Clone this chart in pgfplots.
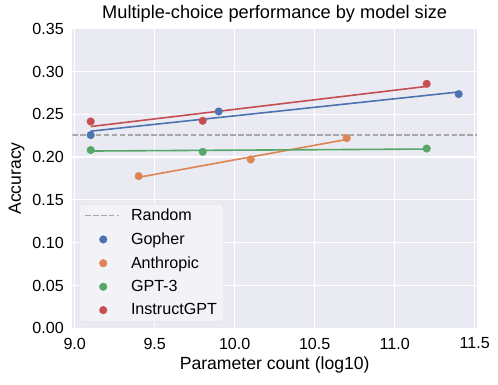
\documentclass[border=0pt]{standalone}
\usepackage{fontspec}
\setmainfont{Liberation Sans}
\usepackage{pgfplots}
\pgfplotsset{compat=1.18}
\definecolor{bgcol}{HTML}{EAEAF2}
\definecolor{gblue}{HTML}{4C72B0}
\definecolor{gorange}{HTML}{DD8452}
\definecolor{ggreen}{HTML}{55A868}
\definecolor{gred}{HTML}{C44E52}
\definecolor{rgray}{HTML}{A8A8A8}
\pgfplotsset{
  dotlegend/.style={legend image code/.code={\draw[##1] plot coordinates {(18pt,0pt)}; \path (0pt,0pt) (43pt,0pt);}},
  dashlegend/.style={legend image code/.code={\draw[##1] (0pt,0pt) -- (34pt,0pt); \path (0pt,0pt) (43pt,0pt);}},
}
\begin{document}
\begin{tikzpicture}
\begin{axis}[
  scale only axis,
  width=404.8pt, height=299.6pt,
  xmin=8.985, xmax=11.515,
  ymin=0, ymax=0.35,
  xtick={9.0,9.5,10.0,10.5,11.0,11.5},
  ytick={0,0.05,0.10,0.15,0.20,0.25,0.30,0.35},
  tick label style={font=\fontsize{16.1}{19}\selectfont},
  xticklabel style={yshift=-6pt, /pgf/number format/.cd, fixed, fixed zerofill, precision=1},
  yticklabel style={xshift=-5pt, /pgf/number format/.cd, fixed, fixed zerofill, precision=2},
  /pgf/number format/assume math mode=true,
  scaled y ticks=false,
  label style={font=\fontsize{17.6}{21}\selectfont},
  xlabel style={yshift=-1pt},
  ylabel style={yshift=1pt},
  title style={font=\fontsize{18.2}{21}\selectfont, yshift=-3pt},
  title={Multiple-choice performance by model size},
  xlabel={Parameter count (log10)},
  ylabel={Accuracy},
  axis background/.style={fill=bgcol},
  axis line style={draw=none},
  major tick length=0pt,
  grid=major,
  grid style={white, line width=1.2pt},
  legend cell align=left,
  legend style={at={(axis cs:8.985,0)}, anchor=south west, xshift=7pt, yshift=6.6pt,
    fill=bgcol!60!white, draw=black!12, rounded corners=3pt,
    font=\fontsize{16.1}{19}\selectfont, row sep=6.6pt, inner xsep=5pt, inner ysep=3pt},
]
\addplot[rgray, line width=1.5pt, dash pattern=on 5.5pt off 2.4pt, dashlegend] coordinates {(8.985,0.226) (11.515,0.226)};
\addlegendentry{Random}
\addplot[only marks, mark=*, mark size=3.8pt, gblue, dotlegend] coordinates {(9.1,0.2257) (9.9,0.2533) (11.4,0.2736)};
\addlegendentry{Gopher}
\addplot[only marks, mark=*, mark size=3.8pt, gorange, dotlegend] coordinates {(9.4,0.1778) (10.1,0.1972) (10.7,0.2222)};
\addlegendentry{Anthropic}
\addplot[only marks, mark=*, mark size=3.8pt, ggreen, dotlegend] coordinates {(9.1,0.2082) (9.8,0.2062) (11.2,0.2100)};
\addlegendentry{GPT-3}
\addplot[only marks, mark=*, mark size=3.8pt, gred, dotlegend] coordinates {(9.1,0.2416) (9.8,0.2424) (11.2,0.2856)};
\addlegendentry{InstructGPT}
\addplot[gblue, line width=1.6pt, forget plot] coordinates {(9.1,0.2303) (11.4,0.2761)};
\addplot[gorange, line width=1.6pt, forget plot] coordinates {(9.4,0.1764) (10.7,0.2206)};
\addplot[ggreen, line width=1.6pt, forget plot] coordinates {(9.1,0.2071) (11.2,0.2094)};
\addplot[gred, line width=1.6pt, forget plot] coordinates {(9.1,0.2357) (11.2,0.2826)};
\coordinate (BL) at (rel axis cs:0,0);
\end{axis}
\pgfresetboundingbox
\path (BL) ++(-72.3pt,-56.7pt) rectangle ++(498pt,385pt);
\end{tikzpicture}
\end{document}
